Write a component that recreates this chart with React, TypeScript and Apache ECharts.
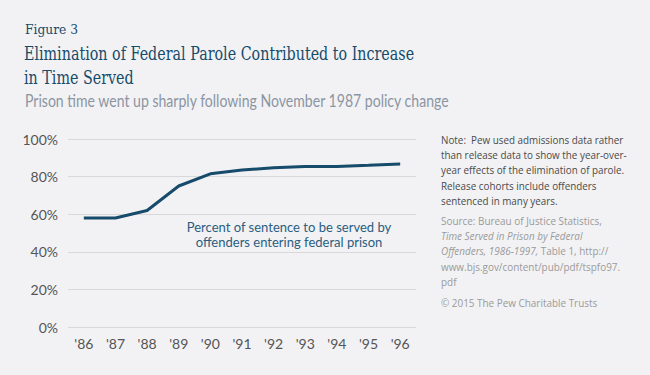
import React, { useEffect, useRef } from "react";
import * as echarts from "echarts";

const years = ["'86", "'87", "'88", "'89", "'90", "'91", "'92", "'93", "'94", "'95", "'96"];
const percentServed = [58, 58, 62, 75, 81.5, 83.5, 84.7, 85.4, 85.4, 86, 86.7];
const yTicks = [0, 20, 40, 60, 80, 100];

const figureLabel = "Figure 3";
const titleLines = ["Elimination of Federal Parole Contributed to Increase", "in Time Served"];
const subtitle = "Prison time went up sharply following November 1987 policy change";
const annotationLines = ["Percent of sentence to be served by", "offenders entering federal prison"];
const noteLines = [
  "Note:  Pew used admissions data rather",
  "than release data to show the year-over-",
  "year effects of the elimination of parole.",
  "Release cohorts include offenders",
  "sentenced in many years.",
];
const sourceLines = [
  "Source: Bureau of Justice Statistics,",
  "{i|Time Served in Prison by Federal}",
  "{i|Offenders, 1986-1997,} Table 1, http://",
  "www.bjs.gov/content/pub/pdf/tspfo97.",
  "pdf",
];
const copyright = "\u00a9 2015 The Pew Charitable Trusts";

const NAVY = "#164b6b";
const SERIF = "'DejaVu Serif', serif";
const SANS = "Lato, 'Open Sans', sans-serif";
const NOTE_SANS = "'Open Sans', Lato, sans-serif";

function measure(text: string, font: string): number {
  const c = document.createElement("canvas").getContext("2d")!;
  c.font = font;
  return c.measureText(text).width;
}

export default function App() {
  const ref = useRef<HTMLDivElement>(null);
  useEffect(() => {
    const chart = echarts.init(ref.current!, null, { renderer: "svg" });
    const graphics: any[] = [];

    const figFont = `300 12.5px ${SERIF}`;
    const figScale = 53 / measure(figureLabel, figFont);
    graphics.push({
      type: "text", x: 25, y: 23, scaleX: figScale,
      style: { text: figureLabel, font: figFont, fill: NAVY, verticalAlign: "top" },
    });

    const titleFont = `300 18px ${SERIF}`;
    const titleScale = 390 / measure(titleLines[0], titleFont);
    titleLines.forEach((t, i) => {
      graphics.push({
        type: "text", x: 24, y: 45 + i * 24, scaleX: titleScale,
        style: { text: t, font: titleFont, fill: NAVY, verticalAlign: "top" },
      });
    });

    const subFont = `400 17px ${SANS}`;
    const subScale = 425 / measure(subtitle, subFont);
    graphics.push({
      type: "text", x: 25, y: 92, scaleX: subScale,
      style: { text: subtitle, font: subFont, fill: "#8b95a3", verticalAlign: "top" },
    });

    const noteFont = `400 10.5px ${NOTE_SANS}`;
    const noteStyle = (fill: string) => ({
      fontSize: 10.5, fontFamily: NOTE_SANS, fontWeight: 400, fill, verticalAlign: "top",
      rich: { i: { fontStyle: "italic", fontSize: 10.5, fontFamily: NOTE_SANS, fill } },
    });
    const noteScale = 180 / measure("Note: Pew used admissions data rather", noteFont);
    noteLines.forEach((t, i) => {
      graphics.push({
        type: "text", x: 441, y: 134 + i * 15.3, scaleX: noteScale,
        style: { text: t, ...noteStyle("#4a4a4a") },
      });
    });
    const srcScale = 161 / measure(sourceLines[0], noteFont);
    sourceLines.forEach((t, i) => {
      graphics.push({
        type: "text", x: 441, y: 215 + i * 15.3, scaleX: srcScale,
        style: { text: t, ...noteStyle("#9a9a9a") },
      });
    });
    graphics.push({
      type: "text", x: 441, y: 297, scaleX: srcScale,
      style: { text: copyright, ...noteStyle("#9a9a9a") },
    });

    const annFont = `400 13.5px ${SANS}`;
    const annScale = 205 / measure(annotationLines[0], annFont);
    annotationLines.forEach((t, i) => {
      graphics.push({
        type: "text", x: 289, y: 227 + i * 14.8, scaleX: annScale,
        style: { text: t, font: annFont, fill: "#2a5d80", align: "center", verticalAlign: "middle" },
      });
    });

    chart.setOption({
      animation: false,
      backgroundColor: "#f2f2f4",
      grid: { left: 68, right: 234, top: 139, bottom: 48, containLabel: false },
      xAxis: {
        type: "category",
        data: years,
        boundaryGap: true,
        axisLine: { show: false },
        axisTick: { show: false },
        axisLabel: { color: "#555", fontSize: 14, fontFamily: SANS, margin: 9 },
      },
      yAxis: {
        type: "value",
        min: 0,
        max: 100,
        interval: 20,
        axisLine: { show: false },
        axisTick: { show: false },
        axisLabel: {
          color: "#555", fontSize: 14, fontFamily: SANS, margin: 10,
          formatter: (v: number) => (yTicks.includes(v) ? `${v}%` : ""),
        },
        splitLine: { lineStyle: { color: "#d8d8da", width: 1 } },
      },
      series: [
        {
          type: "line",
          data: percentServed,
          showSymbol: false,
          symbol: "none",
          lineStyle: { color: NAVY, width: 3 },
        },
      ],
      graphic: graphics,
    });
    return () => chart.dispose();
  }, []);
  return (
    <div style={{ position: "fixed", left: 0, top: 0 }}>
      <div ref={ref} style={{ width: 650, height: 375 }} />
    </div>
  );
}
